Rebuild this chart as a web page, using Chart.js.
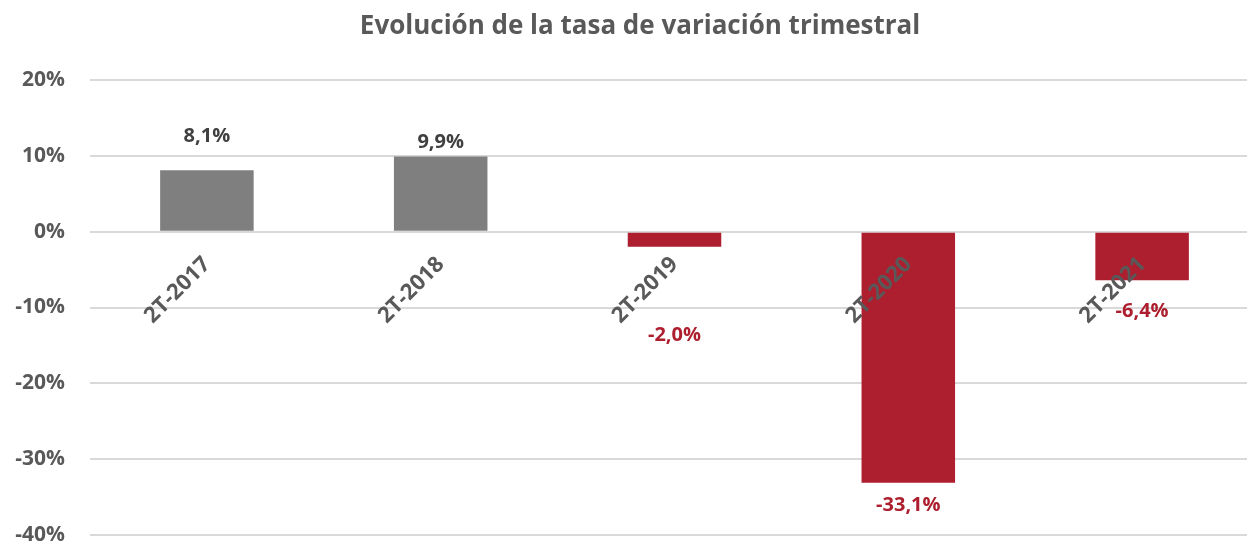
<!DOCTYPE html>
<html>
<head>
<meta charset="utf-8">
<script src="https://cdn.jsdelivr.net/npm/chart.js@4.4.0/dist/chart.umd.min.js"></script>
<style>
  html, body { margin: 0; padding: 0; background: #ffffff; overflow: hidden; }
  #wrap { width: 1280px; height: 543px; position: relative; }
</style>
</head>
<body>
<div id="wrap"><canvas id="c"></canvas></div>
<script>
const categories = ['2T-2017', '2T-2018', '2T-2019', '2T-2020', '2T-2021'];
const values = [8.1, 9.9, -2.0, -33.1, -6.4];
const yTicks = { min: -40, max: 20, step: 10 };
const titleText = 'Evolución de la tasa de variación trimestral';

// styling (not data)
const GRAY_BAR = '#7f7f7f';
const RED_BAR = '#ad1e2e';
const TEXT_GRAY = '#595959';
const LABEL_GRAY = '#404040';
const labelOffsets = [34, 14, 88, 23, 31]; // px from bar end to label centre
const FONT = '"Open Sans", Lato, sans-serif';

const fmt = v => v.toFixed(1).replace('.', ',') + '%';

const titlePlugin = {
  id: 'centredTitle',
  afterDraw(chart) {
    const ctx = chart.ctx;
    ctx.save();
    ctx.font = 'bold 26px ' + FONT;
    ctx.fillStyle = TEXT_GRAY;
    ctx.textAlign = 'center';
    ctx.textBaseline = 'middle';
    ctx.fillText(titleText, chart.width / 2, 27);
    ctx.restore();
  }
};

const dataLabels = {
  id: 'dataLabels',
  afterDraw(chart) {
    const ctx = chart.ctx;
    const meta = chart.getDatasetMeta(0);
    ctx.save();
    ctx.font = 'bold 20px ' + FONT;
    ctx.textAlign = 'center';
    ctx.textBaseline = 'middle';
    meta.data.forEach((el, i) => {
      const v = values[i];
      const off = labelOffsets[i];
      const y = v >= 0 ? el.y - off : el.y + off;
      ctx.fillStyle = v >= 0 ? LABEL_GRAY : RED_BAR;
      ctx.fillText(fmt(v), el.x, y);
    });
    ctx.restore();
  }
};

new Chart(document.getElementById('c'), {
  type: 'bar',
  data: {
    labels: categories,
    datasets: [{
      data: values,
      backgroundColor: values.map(v => v >= 0 ? GRAY_BAR : RED_BAR),
      categoryPercentage: 1.0,
      barPercentage: 0.4,
      borderWidth: 0
    }]
  },
  options: {
    responsive: true,
    maintainAspectRatio: false,
    animation: false,
    layout: { padding: { left: 0, right: 21, top: 80, bottom: 8 } },
    plugins: {
      legend: { display: false },
      tooltip: { enabled: false },
      title: { display: false }
    },
    scales: {
      x: {
        type: 'category',
        position: { y: 0 },
        offset: true,
        afterFit(scale) {
          scale.height = 0;
          scale.paddingLeft = 0; scale.paddingRight = 0;
          scale.paddingTop = 0; scale.paddingBottom = 0;
        },
        grid: { display: false },
        border: { display: false },
        ticks: {
          z: 1,
          autoSkip: false,
          minRotation: 45,
          maxRotation: 45,
          padding: 12,
          color: TEXT_GRAY,
          font: { family: FONT, size: 22, weight: 'bold' }
        }
      },
      y: {
        min: yTicks.min,
        max: yTicks.max,
        afterFit(scale) {
          scale.width = 90;
          scale.paddingTop = 0; scale.paddingBottom = 0;
        },
        border: { display: false },
        grid: { color: '#d9d9d9', lineWidth: 2, drawTicks: false },
        ticks: {
          stepSize: yTicks.step,
          padding: 25,
          color: TEXT_GRAY,
          font: { family: FONT, size: 21, weight: 'bold' },
          callback: v => v + '%'
        }
      }
    }
  },
  plugins: [dataLabels, titlePlugin]
});
</script>
</body>
</html>
